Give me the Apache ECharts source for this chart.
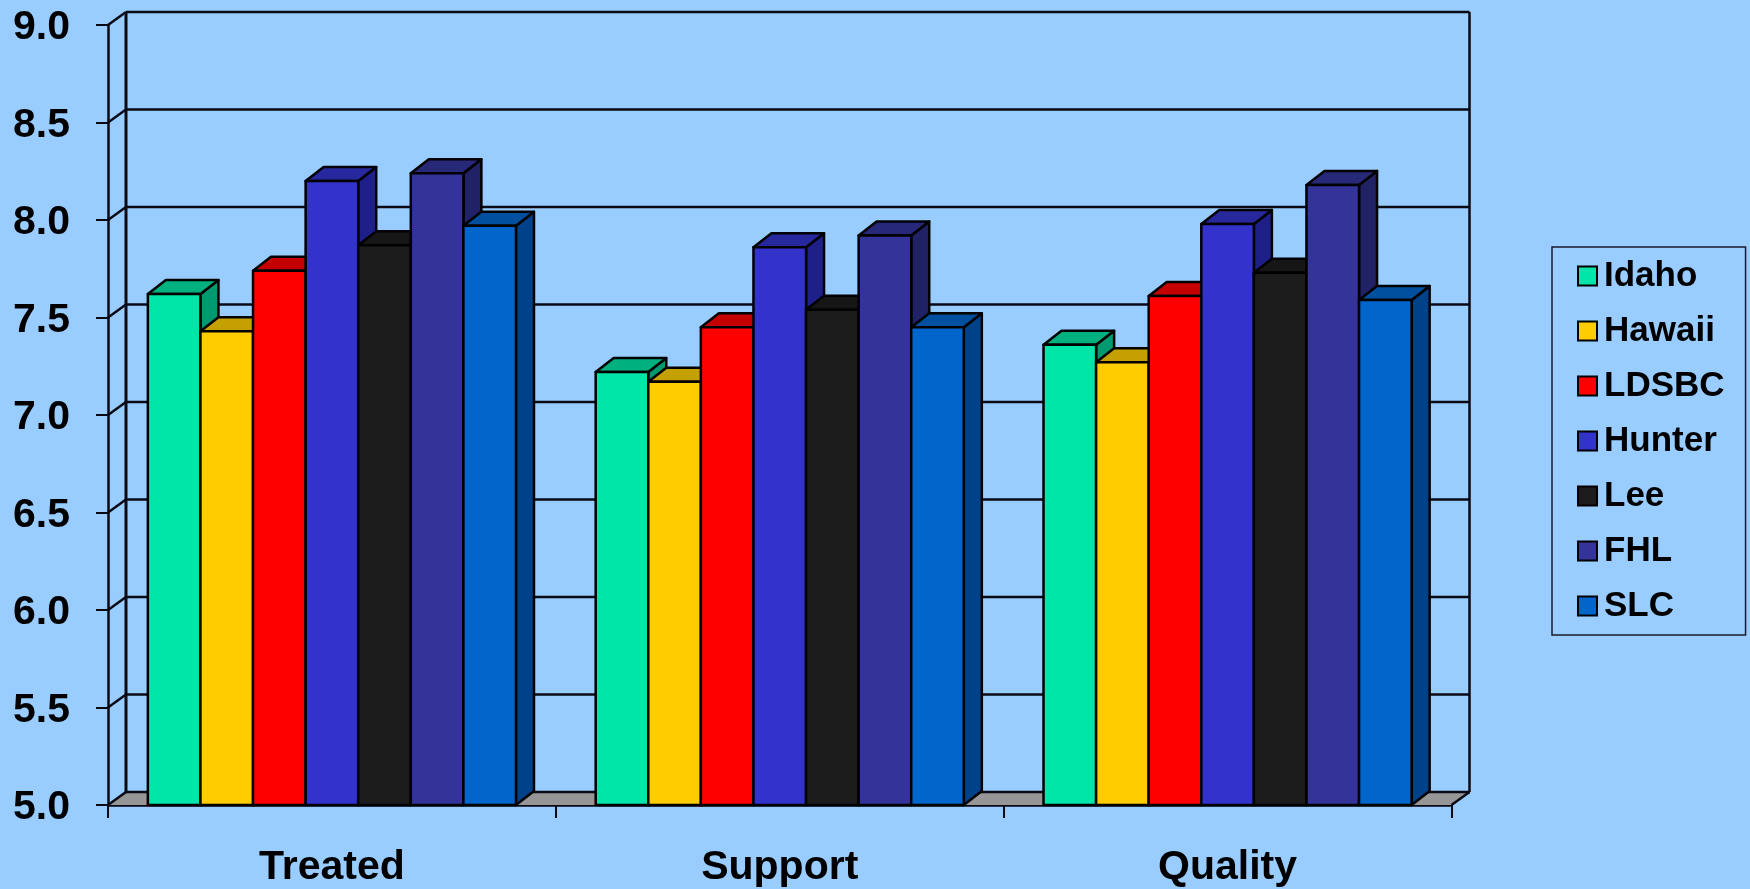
<!DOCTYPE html>
<html>
<head>
<meta charset="utf-8">
<style>html,body{margin:0;padding:0;background:#99CCFF}#chart{width:1750px;height:889px}</style>
<script src="https://cdn.jsdelivr.net/npm/echarts@6/dist/echarts.min.js"></script>
</head>
<body>
<div id="chart"></div>
<script>
// Survey scores per campus, grouped by question
const categories = ['Treated', 'Support', 'Quality'];
const yTicks = [5, 5.5, 6, 6.5, 7, 7.5, 8, 8.5, 9];
const idaho  = [7.62, 7.22, 7.36];
const hawaii = [7.43, 7.17, 7.27];
const ldsbc  = [7.74, 7.45, 7.61];
const hunter = [8.20, 7.86, 7.98];
const lee    = [7.87, 7.54, 7.73];
const fhl    = [8.24, 7.92, 8.18];
const slc    = [7.97, 7.45, 7.59];

const campuses = [
  { name: 'Idaho',  values: idaho,  front: '#00E6A8', top: '#00B07E', side: '#009A70' },
  { name: 'Hawaii', values: hawaii, front: '#FFCC00', top: '#C4A000', side: '#A88800' },
  { name: 'LDSBC',  values: ldsbc,  front: '#FF0000', top: '#C40000', side: '#A80000' },
  { name: 'Hunter', values: hunter, front: '#3333CC', top: '#28289E', side: '#1F1F8A' },
  { name: 'Lee',    values: lee,    front: '#1C1C1C', top: '#161616', side: '#131313' },
  { name: 'FHL',    values: fhl,    front: '#333399', top: '#282878', side: '#212165' },
  { name: 'SLC',    values: slc,    front: '#0066CC', top: '#00509F', side: '#00428A' }
];

// Offset of the receding faces, in pixels
const DEPTH_X = 18;
const DEPTH_Y = 14;
const WALL_DEPTH_Y = 13;
const GAP_RATIO = 0.178;
const FONT = '"Liberation Sans", Arial, sans-serif';
const EDGE = { stroke: '#000', lineWidth: 2.5, lineJoin: 'round' };

function line(x1, y1, x2, y2, width) {
  return { type: 'line', shape: { x1, y1, x2, y2 }, style: { stroke: '#0a0a14', lineWidth: width || 2.5 }, silent: true };
}

// Back wall, side wall and floor, one gridline per value tick
function renderWall(params, api) {
  const cs = params.coordSys;
  const y = api.coord([0, api.value(1)])[1];
  const left = cs.x, right = cs.x + cs.width;
  const back = y - WALL_DEPTH_Y;
  const children = [];
  if (api.value(1) === yTicks[0]) {
    children.push({
      type: 'polygon',
      shape: { points: [[left, y], [right, y], [right + DEPTH_X, back], [left + DEPTH_X, back]] },
      style: { fill: '#969696' }, silent: true
    });
    children.push(line(left + DEPTH_X, back, left + DEPTH_X, cs.y - WALL_DEPTH_Y, 3));
    children.push(line(right + DEPTH_X, back, right + DEPTH_X, cs.y - WALL_DEPTH_Y));
    children.push(line(right, y, right + DEPTH_X, back));
  }
  children.push(line(left, y, left + DEPTH_X, back));
  children.push(line(left + DEPTH_X, back, right + DEPTH_X, back));
  return { type: 'group', children };
}

// One extruded bar: front, top and right faces
function barRenderer(index) {
  return function (params, api) {
    const band = api.size([1, 0])[0];
    const inner = band * (1 - GAP_RATIO);
    const w = inner / campuses.length;
    const center = api.coord([api.value(0), 0])[0];
    const x0 = center - inner / 2 + w * index;
    const x1 = x0 + w;
    const yTop = api.coord([0, api.value(1)])[1];
    const yBase = api.coord([0, yTicks[0]])[1];
    const c = campuses[index];
    return {
      type: 'group',
      children: [
        { type: 'polygon', silent: true,
          shape: { points: [[x1, yTop], [x1 + DEPTH_X, yTop - DEPTH_Y], [x1 + DEPTH_X, yBase - DEPTH_Y], [x1, yBase]] },
          style: Object.assign({ fill: c.side }, EDGE) },
        { type: 'polygon', silent: true,
          shape: { points: [[x0, yTop], [x0 + DEPTH_X, yTop - DEPTH_Y], [x1 + DEPTH_X, yTop - DEPTH_Y], [x1, yTop]] },
          style: Object.assign({ fill: c.top }, EDGE) },
        { type: 'polygon', silent: true,
          shape: { points: [[x0, yBase], [x0, yTop], [x1, yTop], [x1, yBase]] },
          style: Object.assign({ fill: c.front }, EDGE) }
      ]
    };
  };
}

const chart = echarts.init(document.getElementById('chart'), null, { renderer: 'canvas' });

const series = [{
  type: 'custom',
  name: 'wall',
  renderItem: renderWall,
  clip: false,
  silent: true,
  encode: { x: 0, y: 1 },
  data: yTicks.map(v => [0, v]),
  z: 1
}].concat(campuses.map((c, i) => ({
  type: 'custom',
  name: c.name,
  renderItem: barRenderer(i),
  clip: false,
  silent: true,
  encode: { x: 0, y: 1 },
  itemStyle: { color: c.front, borderColor: '#000', borderWidth: 2.5 },
  data: c.values.map((v, k) => [k, v]),
  z: 2
})));

chart.setOption({
  animation: false,
  backgroundColor: '#99CCFF',
  grid: { left: 108, top: 25, width: 1343.5, height: 780, containLabel: false, outerBoundsMode: 'none' },
  legend: {
    orient: 'vertical',
    left: 1552,
    top: 247,
    data: campuses.map(c => c.name),
    icon: 'rect',
    itemWidth: 19,
    itemHeight: 19,
    itemGap: 17,
    padding: [10, 21, 10, 25],
    borderColor: '#1a1a2a',
    borderWidth: 1.5,
    backgroundColor: 'transparent',
    selectedMode: false,
    textStyle: { fontFamily: FONT, fontWeight: 'bold', fontSize: 35, color: '#000', lineHeight: 38, padding: [0, 0, 0, 2] }
  },
  xAxis: {
    type: 'category',
    data: categories,
    boundaryGap: true,
    axisLine: { show: true, lineStyle: { color: '#0a0a14', width: 2.5 } },
    axisTick: { show: true, length: 13, lineStyle: { color: '#0a0a14', width: 2 } },
    axisLabel: { fontFamily: FONT, fontWeight: 'bold', fontSize: 41, color: '#000', margin: 42, interval: 0 },
    splitLine: { show: false }
  },
  yAxis: {
    type: 'value',
    min: 5,
    max: 9,
    interval: 0.5,
    axisLine: { show: true, lineStyle: { color: '#0a0a14', width: 2.5 } },
    axisTick: { show: true, length: 12, lineStyle: { color: '#0a0a14', width: 2 } },
    axisLabel: {
      fontFamily: FONT, fontWeight: 'bold', fontSize: 41, color: '#000', margin: 38,
      lineHeight: 6, verticalAlign: 'top',
      showMinLabel: true, showMaxLabel: true, formatter: v => v.toFixed(1)
    },
    splitLine: { show: false }
  },
  series
});
</script>
</body>
</html>
